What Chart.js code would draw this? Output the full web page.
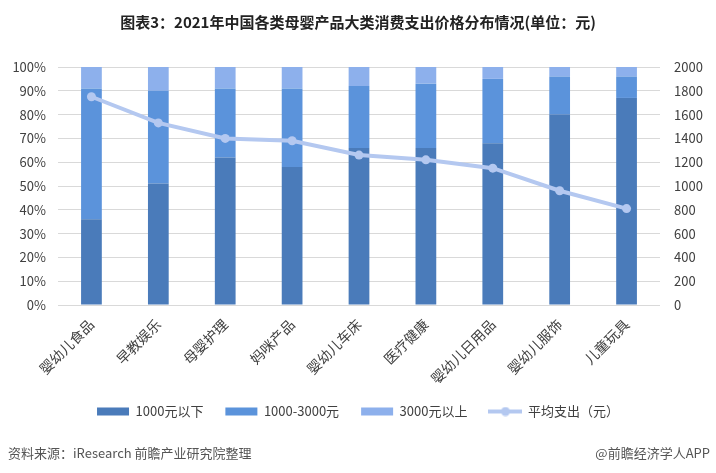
<!DOCTYPE html>
<html>
<head>
<meta charset="utf-8">
<script src="https://cdn.jsdelivr.net/npm/chart.js@4"></script>
<style>
  html, body { margin: 0; padding: 0; background: #fff; }
  #wrap { position: relative; width: 716px; height: 473px; }
  .foot { position: absolute; top: 443px; font: 13px "Noto Sans CJK SC", sans-serif; color: #555; }
</style>
</head>
<body>
<div id="wrap">
  <canvas id="c" width="716" height="473"></canvas>
  <div class="foot" style="left:8px;">资料来源：iResearch 前瞻产业研究院整理</div>
  <div class="foot" style="right:6px;">@前瞻经济学人APP</div>
</div>
<script>
// chart data
const categories = ['婴幼儿食品', '早教娱乐', '母婴护理', '妈咪产品', '婴幼儿车床', '医疗健康', '婴幼儿日用品', '婴幼儿服饰', '儿童玩具'];
const below1000 = [36, 51, 62, 58, 66, 66, 68, 80, 87];
const mid1000to3000 = [55, 39, 29, 33, 26, 27, 27, 16, 9];
const above3000 = [9, 10, 9, 9, 8, 7, 5, 4, 4];
const avgSpend = [1750, 1530, 1400, 1380, 1260, 1220, 1150, 960, 810];

const FONT = '"Noto Sans CJK SC", "Liberation Sans", sans-serif';
const TICK_COLOR = '#404040';
const lineColor = '#B4C8F0';

// legend icon for the line series: a short line with a dot
const lineIcon = document.createElement('canvas');
lineIcon.width = 34; lineIcon.height = 10;
(function() {
  const g = lineIcon.getContext('2d');
  g.strokeStyle = lineColor; g.lineWidth = 4;
  g.beginPath(); g.moveTo(0, 5); g.lineTo(34, 5); g.stroke();
  g.fillStyle = lineColor;
  g.beginPath(); g.arc(17, 5, 4.5, 0, Math.PI * 2); g.fill();
})();

const barDefaults = { type: 'bar', yAxisID: 'y', order: 1, barPercentage: 0.31, categoryPercentage: 1.0, borderWidth: 0 };

new Chart(document.getElementById('c'), {
  data: {
    labels: categories,
    datasets: [
      Object.assign({ label: '1000元以下', data: below1000, backgroundColor: '#4A7BBA' }, barDefaults),
      Object.assign({ label: '1000-3000元', data: mid1000to3000, backgroundColor: '#5B93DB' }, barDefaults),
      Object.assign({ label: '3000元以上', data: above3000, backgroundColor: '#8DB0EC' }, barDefaults),
      {
        type: 'line', label: '平均支出（元）', data: avgSpend, yAxisID: 'y2', order: 0,
        borderColor: lineColor, backgroundColor: lineColor, borderWidth: 4,
        pointRadius: 4.5, pointBackgroundColor: lineColor, pointBorderWidth: 0, tension: 0
      }
    ]
  },
  options: {
    responsive: false,
    animation: false,
    layout: { padding: { left: 4, right: 4, top: 0, bottom: 45 } },
    plugins: {
      tooltip: { enabled: false },
      title: {
        display: true,
        text: '图表3：2021年中国各类母婴产品大类消费支出价格分布情况(单位：元)',
        color: '#222',
        font: { family: FONT, size: 15, weight: 'bold' },
        padding: { top: 13, bottom: 36 }
      },
      legend: {
        position: 'bottom',
        labels: {
          color: TICK_COLOR,
          font: { family: FONT, size: 13 },
          usePointStyle: true,
          pointStyleWidth: 32,
          boxHeight: 8,
          padding: 22,
          sort: (a, b) => a.datasetIndex - b.datasetIndex,
          generateLabels: function(chart) {
            const items = Chart.defaults.plugins.legend.labels.generateLabels(chart);
            items.forEach(it => {
              if (it.datasetIndex === 3) { it.pointStyle = lineIcon; }
              else { it.pointStyle = 'rect'; it.lineWidth = 0; }
            });
            return items;
          }
        }
      }
    },
    scales: {
      x: {
        stacked: true,
        grid: { display: false },
        border: { display: false },
        ticks: { color: TICK_COLOR, font: { family: FONT, size: 14 }, maxRotation: 45, minRotation: 45, padding: 3 },
        afterFit: s => { s.height = 78; }
      },
      y: {
        position: 'left',
        stacked: true,
        min: 0, max: 100,
        grid: { color: '#D9D9D9', drawTicks: false },
        border: { display: false },
        ticks: { stepSize: 10, color: TICK_COLOR, font: { family: FONT, size: 13 }, padding: 12, callback: v => v + '%' },
        afterFit: s => { s.width = 54; }
      },
      y2: {
        position: 'right',
        min: 0, max: 2000,
        grid: { display: false, drawTicks: false },
        border: { display: false },
        ticks: { stepSize: 200, color: TICK_COLOR, font: { family: FONT, size: 13 }, padding: 14, callback: v => String(v) },
        afterFit: s => { s.width = 52; }
      }
    }
  }
});
</script>
</body>
</html>
